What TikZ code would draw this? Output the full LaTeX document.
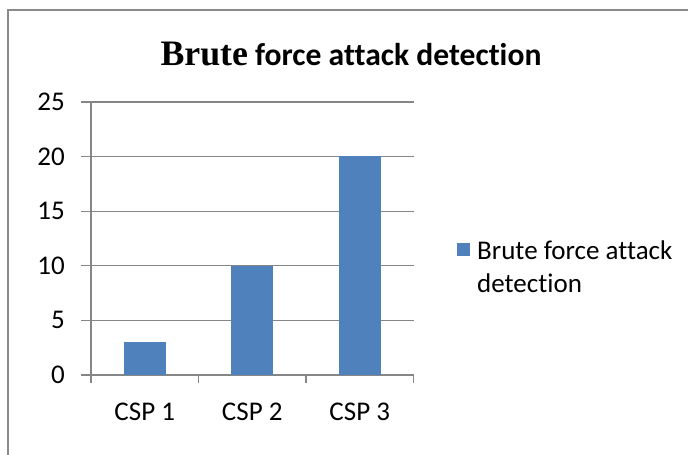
\documentclass[tikz,border=0pt]{standalone}
\usepackage{fontspec}
\setmainfont{Carlito}[Ligatures=CommonOff]
\newfontfamily\serifpart{Liberation Serif}
\usetikzlibrary{positioning}
\definecolor{barblue}{HTML}{4F81BD}
\definecolor{gridgray}{HTML}{868686}
\definecolor{framegray}{HTML}{8A8A8A}

\begin{document}
\begin{tikzpicture}[x=1pt, y=-1pt,
    frameline/.style={draw=framegray, line width=1.2pt},
    gridline/.style={draw=gridgray, line width=1.2pt},
    bar/.style={fill=barblue, draw=none, minimum width=42pt, inner sep=0pt, anchor=south},
    lbl/.style={font=\fontsize{27}{33}\selectfont, inner sep=0pt}
]
\useasboundingbox (0,0) rectangle (688,455);
\draw[frameline] (8,455) -- (8,10) -- (688,10);
\node[font=\bfseries\fontsize{31.6}{36}\selectfont, inner sep=0pt] (title) at (351,54)
  {{\serifpart\fontsize{35.8}{36}\selectfont Brute} force attack detection};

\begin{scope}[shift={(91,375)}, x=107.5pt, y=10.92pt]
  % value axis with grid
  \foreach \v in {0,5,...,25} {
    \draw[gridline] ([xshift=-10pt]0,\v) -- (3,\v);
    \node[lbl, anchor=east] (ylbl\v) at ([xshift=-26pt]0,\v) {\v};
  }
  \draw[gridline] (0,0) -- (0,25);
  \foreach \i in {0,...,3}
    \draw[gridline] (\i,0) -- ([yshift=-8pt]\i,0);
  % bars
  \node[bar, minimum height=32.76pt] (csp1) at (0.5,0) {};
  \node[bar, minimum height=109.2pt] (csp2) at (1.5,0) {};
  \node[bar, minimum height=218.4pt] (csp3) at (2.5,0) {};
  \node[lbl] (xlbl1) at (0.5,-3.35) {CSP 1};
  \node[lbl] (xlbl2) at (1.5,-3.35) {CSP 2};
  \node[lbl] (xlbl3) at (2.5,-3.35) {CSP 3};
\end{scope}

% legend
\node[fill=barblue, minimum size=13pt, inner sep=0pt] (key) at (463.5,249.5) {};
\node[lbl, anchor=north west, align=left] (keytext) at (477,240.5) {Brute force attack\\detection};
\end{tikzpicture}
\end{document}
